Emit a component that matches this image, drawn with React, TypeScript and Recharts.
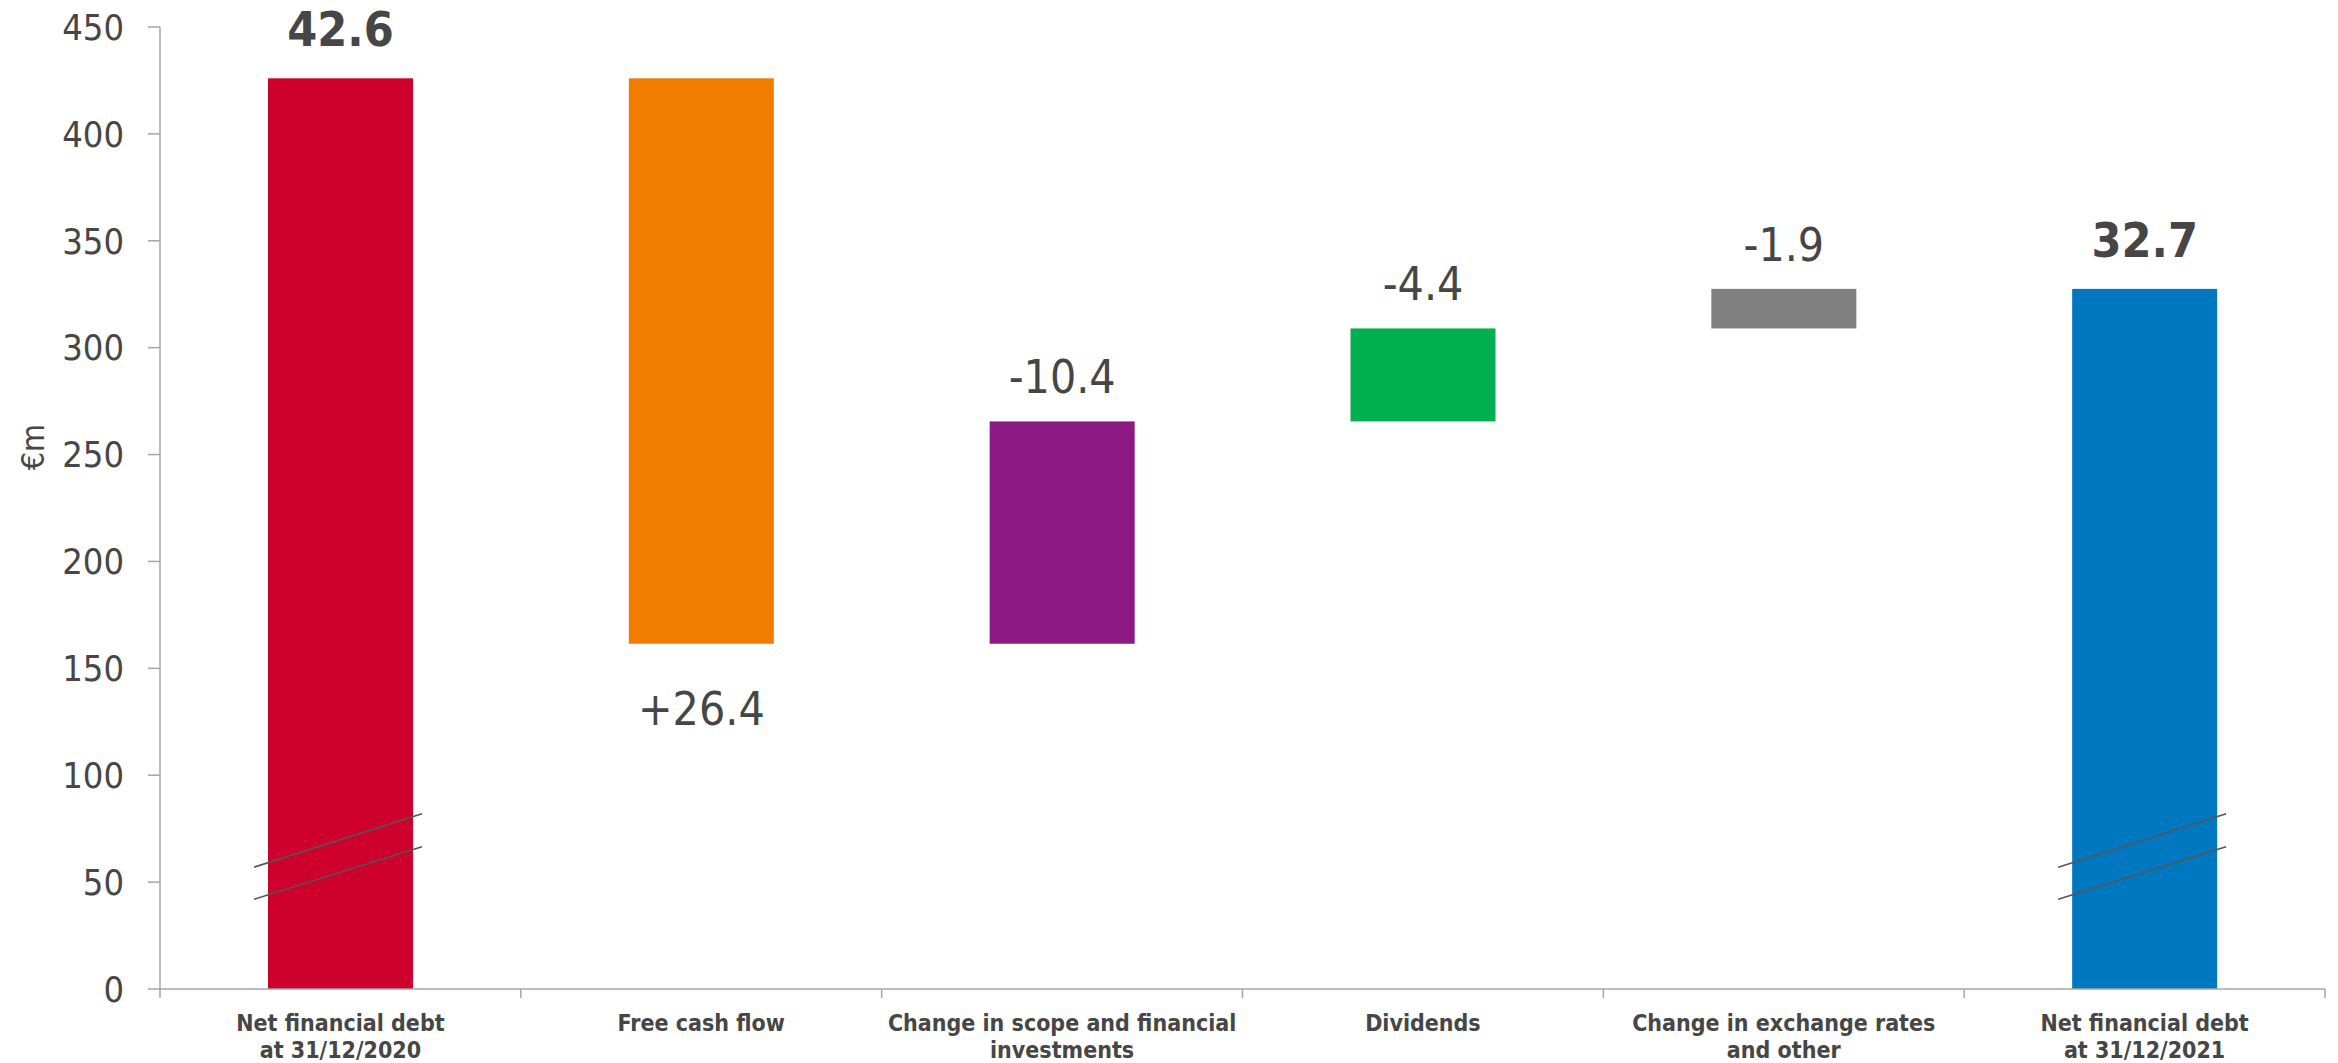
import { Bar, BarChart, Cell, LabelList, XAxis, YAxis } from "recharts";

const categories = [
  "Net financial debt\nat 31/12/2020",
  "Free cash flow",
  "Change in scope and financial\ninvestments",
  "Dividends",
  "Change in exchange rates\nand other",
  "Net financial debt\nat 31/12/2021",
];
// invisible base of each floating bar, and the visible part on top of it
const bases = [0, 161.5, 161.5, 265.5, 309, 0];
const deltas = [426, 264.5, 104, 43.5, 18.5, 327.5];
const valueLabels = ["42.6", "+26.4", "-10.4", "-4.4", "-1.9", "32.7"];
const colors = ["#CE002C", "#F07D00", "#8B1B83", "#00AF50", "#808080", "#0078C1"];
const yTicks = [0, 50, 100, 150, 200, 250, 300, 350, 400, 450];

const data = categories.map((name, i) => ({
  name,
  base: bases[i],
  delta: deltas[i],
  label: valueLabels[i],
}));

const FONT = '"DejaVu Sans Condensed", "DejaVu Sans", sans-serif';
const TEXT = "#464646";
const AXIS = "#A6A6A6";

const WIDTH = 2330;
const HEIGHT = 1055;
const Y_AXIS_W = 152;
const RIGHT = 13;
const BAND = (WIDTH - Y_AXIS_W - RIGHT) / categories.length;

// break marks drawn across the two total bars (value units, left end -> right end)
const BREAKS = [
  [57, 82],
  [42, 66.5],
];

function WaterfallBar(props: any) {
  const { x, y, width, height, fill, payload } = props;
  const isTotal = payload.base === 0;
  const perUnit = height / payload.delta;
  const zeroY = y + height;
  return (
    <g>
      <rect x={x} y={y} width={width} height={height} fill={fill} />
      {isTotal &&
        BREAKS.map(([a, b], k) => (
          <line
            key={k}
            x1={x - 14}
            y1={zeroY - a * perUnit}
            x2={x + width + 9}
            y2={zeroY - b * perUnit}
            stroke="#555"
            strokeWidth={1.6}
          />
        ))}
    </g>
  );
}

function ValueLabel(props: any) {
  const { x, y, width, height, value, index } = props;
  const below = String(value).startsWith("+");
  const isTotal = bases[index] === 0;
  const ty = below ? y + height + 81 : y - (isTotal ? 32 : 28);
  return (
    <text
      x={x + width / 2}
      y={ty}
      textAnchor="middle"
      fontFamily={FONT}
      fontSize={isTotal ? 48 : 46}
      fontWeight={isTotal ? 700 : 400}
      fill={TEXT}
    >
      {value}
    </text>
  );
}

function CategoryTick(props: any) {
  const { x, y, payload, index } = props;
  const lines = String(payload.value).split("\n");
  const left = x - BAND / 2;
  const right = x + BAND / 2;
  return (
    <g>
      <line x1={left} y1={y} x2={left} y2={y + 9} stroke={AXIS} strokeWidth={1.5} />
      {index === categories.length - 1 && (
        <line x1={right} y1={y} x2={right} y2={y + 9} stroke={AXIS} strokeWidth={1.5} />
      )}
      {lines.map((l, i) => (
        <text
          key={i}
          x={x}
          y={y + 42 + i * 27}
          textAnchor="middle"
          fontFamily={FONT}
          fontSize={23}
          fontWeight={700}
          fill={TEXT}
        >
          {l}
        </text>
      ))}
    </g>
  );
}

export default function App() {
  return (
    <div style={{ width: WIDTH, height: HEIGHT, background: "#fff" }}>
      <BarChart
        width={WIDTH}
        height={HEIGHT}
        data={data}
        margin={{ top: 19, right: RIGHT, bottom: 0, left: 0 }}
        barSize={145}
      >
        <XAxis
          dataKey="name"
          interval={0}
          height={74}
          axisLine={{ stroke: AXIS, strokeWidth: 1.5 }}
          tickLine={false}
          tickSize={0}
          tickMargin={0}
          tick={<CategoryTick />}
        />
        <YAxis
          width={Y_AXIS_W}
          domain={[0, 450]}
          ticks={yTicks}
          interval={0}
          axisLine={{ stroke: AXIS, strokeWidth: 1.5 }}
          tickLine={{ stroke: AXIS, strokeWidth: 1.5 }}
          tickSize={12}
          tickMargin={24}
          tick={{ fill: TEXT, fontSize: 36, fontFamily: FONT }}
          label={{
            content: () => (
              <text
                x={25}
                y={439}
                transform="rotate(-90 25 439)"
                textAnchor="middle"
                dominantBaseline="central"
                fontFamily={FONT}
                fontSize={32}
                fill={TEXT}
              >
                €m
              </text>
            ),
          }}
        />
        <Bar dataKey="base" stackId="w" fill="transparent" isAnimationActive={false} />
        <Bar dataKey="delta" stackId="w" shape={<WaterfallBar />} isAnimationActive={false}>
          {data.map((_, i) => (
            <Cell key={i} fill={colors[i]} />
          ))}
          <LabelList dataKey="label" content={<ValueLabel />} />
        </Bar>
      </BarChart>
    </div>
  );
}
